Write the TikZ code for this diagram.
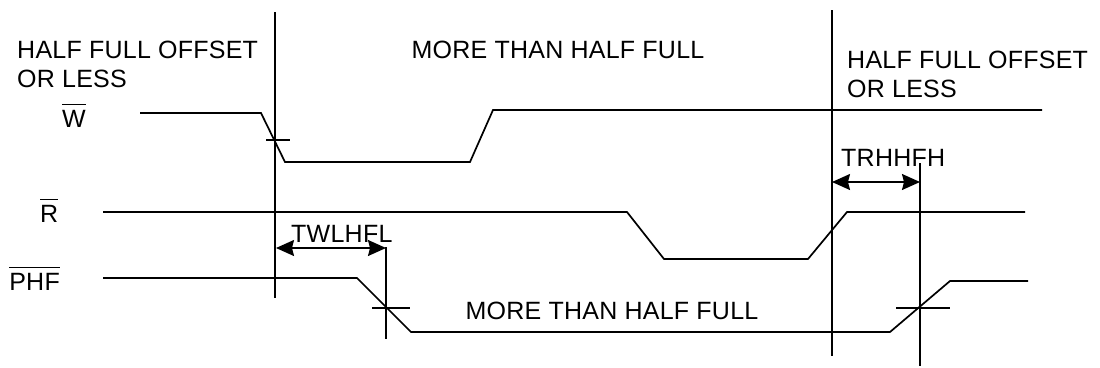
\documentclass[tikz,border=0pt]{standalone}
\usepackage{fontspec}
\setmainfont{Liberation Sans}[LetterSpace=1]
\usetikzlibrary{arrows.meta}
\tikzstyle{sigLine} = [line width=1.7pt, line join=miter]
\tikzstyle{markLine} = [line width=1.7pt]
\tikzstyle{txtNode} = [inner sep=0pt, align=left, font=\fontsize{25}{29}\selectfont]
\tikzstyle{arrow} = [line width=1.5pt, {Stealth[length=18pt,width=16pt,inset=2pt]}-{Stealth[length=18pt,width=16pt,inset=2pt]}]
\newcommand{\negSig}[1]{$\overline{\mbox{\rule{0pt}{0.86em}#1}}$}

\begin{document}
\begin{tikzpicture}[x=1pt, y=-1pt]
        \useasboundingbox (0,0) rectangle (1100,367);

        % region labels
        \node (leftReg) [txtNode, anchor=north west] at (17,41) {HALF FULL OFFSET\\OR LESS};
        \node (midReg) [txtNode, anchor=base] at (558,58) {MORE THAN HALF FULL};
        \node (rightReg) [txtNode, anchor=north west] at (847,51) {HALF FULL OFFSET\\OR LESS};

        % signal names
        \node (wName) [txtNode, anchor=base west] at (62,127) {\negSig{W}};
        \node (rName) [txtNode, anchor=base west] at (40,222) {\negSig{R}};
        \node (phfName) [txtNode, anchor=base east] at (60,290) {\negSig{PHF}};

        % time marks
        \draw [markLine] (275,12) -- (275,298);
        \draw [markLine] (832,10) -- (832,356);
        \draw [markLine] (386,247) -- (386,339);
        \draw [markLine] (920,163) -- (920,366);
        \draw [markLine] (266,140) -- (290,140);
        \draw [markLine] (372,308) -- (410,308);
        \draw [markLine] (896,308) -- (950,308);

        % waveforms
        \draw [sigLine] (140,113) -- (261,113) -- (285,162) -- (470,162) -- (493,110) -- (1042,110);
        \draw [sigLine] (103,212) -- (627,212) -- (664,259) -- (808,259) -- (847,212) -- (1025,212);
        \draw [sigLine] (103,278) -- (357,278) -- (411,332) -- (890,332) -- (950,281) -- (1028,281);

        % timing parameters
        \coordinate (twlA) at (276,248);
        \coordinate (twlB) at (386,248);
        \coordinate (trhA) at (832,182);
        \coordinate (trhB) at (920,182);
        \draw [arrow] (twlA) -- (twlB);
        \draw [arrow] (trhA) -- (trhB);
        \node (twl) [txtNode, anchor=base west] at (291,242) {TWLHFL};
        \node (trh) [txtNode, anchor=base west] at (841,166) {TRHHFH};
        \node (phfLow) [txtNode, anchor=base] at (612,319) {MORE THAN HALF FULL};
    \end{tikzpicture}
\end{document}
